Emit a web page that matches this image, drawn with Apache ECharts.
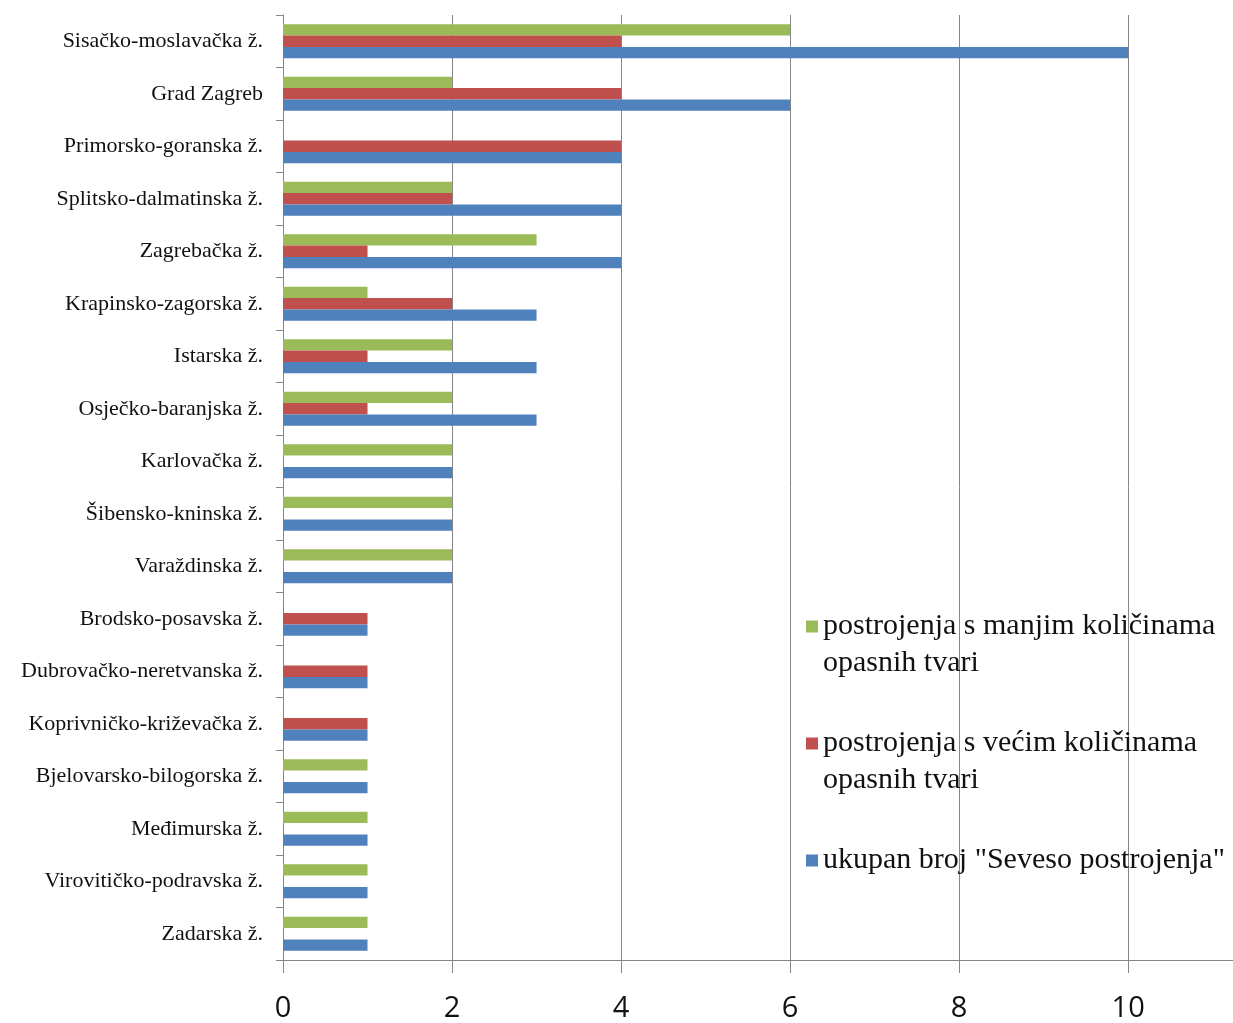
<!DOCTYPE html>
<html>
<head>
<meta charset="utf-8">
<script src="https://cdn.jsdelivr.net/npm/echarts@6/dist/echarts.min.js"></script>
<style>html,body{margin:0;padding:0;background:#fff}#c{width:1233px;height:1023px}</style>
</head>
<body>
<div id="c"></div>
<script>
const categories = ["Sisačko-moslavačka ž.","Grad Zagreb","Primorsko-goranska ž.","Splitsko-dalmatinska ž.","Zagrebačka ž.","Krapinsko-zagorska ž.","Istarska ž.","Osječko-baranjska ž.","Karlovačka ž.","Šibensko-kninska ž.","Varaždinska ž.","Brodsko-posavska ž.","Dubrovačko-neretvanska ž.","Koprivničko-križevačka ž.","Bjelovarsko-bilogorska ž.","Međimurska ž.","Virovitičko-podravska ž.","Zadarska ž."];
const manjim = [6,2,0,2,3,1,2,2,2,2,2,0,0,0,1,1,1,1];
const vecim  = [4,4,4,2,1,2,1,1,0,0,0,1,1,1,0,0,0,0];
const ukupno = [10,6,4,4,4,3,3,3,2,2,2,1,1,1,1,1,1,1];
const seriesNames = ["postrojenja s manjim količinama\nopasnih tvari","postrojenja s većim količinama\nopasnih tvari","ukupan broj \"Seveso postrojenja\""];
const xTicks = {min:0, max:11.24, interval:2};

const chart = echarts.init(document.getElementById('c'));
const gray = '#868686';
chart.setOption({
  animation:false,
  backgroundColor:'#fff',
  grid:{left:283, right:0, top:15, bottom:60},
  xAxis:{type:'value', min:xTicks.min, max:xTicks.max, interval:xTicks.interval,
    axisLine:{show:true, lineStyle:{color:gray, width:1}},
    axisTick:{show:true, length:13, lineStyle:{color:gray}},
    splitLine:{show:true, lineStyle:{color:gray, width:1}},
    axisLabel:{fontFamily:'Open Sans', fontSize:29, color:'#111', margin:34, showMaxLabel:false,
      formatter: function(v){ return (v % 2 === 0) ? String(v) : ''; }}
  },
  yAxis:{type:'category', data:categories, inverse:true,
    axisLine:{show:true, lineStyle:{color:gray}},
    axisTick:{show:true, length:7, lineStyle:{color:gray}},
    axisLabel:{fontFamily:'Liberation Serif', fontSize:22, color:'#111', margin:20}
  },
  legend:{orient:'vertical', left:806, top:571, padding:0, itemGap:6,
    itemWidth:12, itemHeight:12, icon:'rect',
    formatter: function(name){ return name.indexOf('\n') >= 0 ? '\n' + name : '\n' + name + '\n'; },
    textStyle:{fontFamily:'Liberation Serif', fontSize:30, lineHeight:37, color:'#111'},
    data:seriesNames
  },
  series:[
    {name:seriesNames[0], type:'bar', data:manjim, barGap:0, barCategoryGap:'35%', itemStyle:{color:'#9BBB59'}},
    {name:seriesNames[1], type:'bar', data:vecim, barGap:0, barCategoryGap:'35%', itemStyle:{color:'#C0504D'}},
    {name:seriesNames[2], type:'bar', data:ukupno, barGap:0, barCategoryGap:'35%', itemStyle:{color:'#4F81BD'}}
  ]
});
</script>
</body>
</html>
